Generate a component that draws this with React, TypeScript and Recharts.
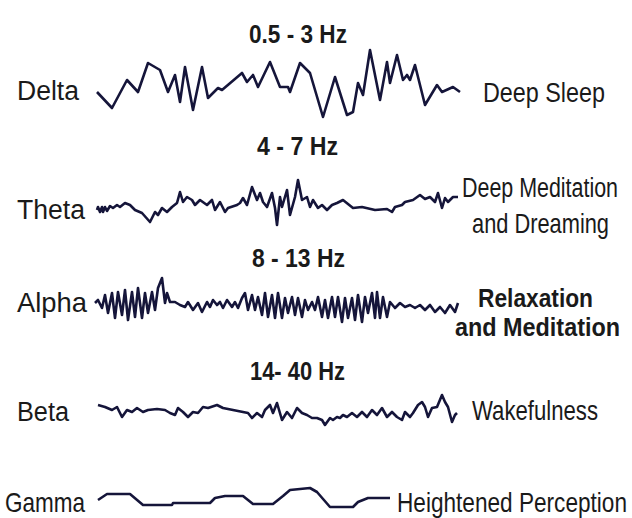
import { LineChart, Line, XAxis, YAxis } from "recharts";

// brain wave bands
const bandNames = ["Delta", "Theta", "Alpha", "Beta", "Gamma"];
const bandRanges = ["0.5 - 3 Hz", "4 - 7 Hz", "8 - 13 Hz", "14- 40 Hz"];
const bandStates = [
  ["Deep Sleep"],
  ["Deep Meditation", "and Dreaming"],
  ["Relaxation", "and Meditation"],
  ["Wakefulness"],
  ["Heightened Perception"],
];

// [time, amplitude] samples
const deltaWave = [
  [0, -8], [15, -24], [30, 4], [41, -8], [51, 21], [63, 14], [71, -8], [78, 9],
  [83, -18], [88, 17], [96, -26], [105, 17], [111, -14], [121, -4], [125, -6],
  [145, 11], [150, 2], [156, 9], [161, -3], [173, 22], [183, -3], [191, -3],
  [193, -8], [203, 21], [213, 11], [226, -33], [238, 7], [250, -31], [256, -28],
  [261, 1], [266, -11], [273, 34], [283, -16], [290, 22], [293, 1], [300, 29],
  [306, 4], [310, 9], [313, 4], [318, 19], [328, -21], [340, -1], [345, -8],
  [356, -3], [363, -8],
];

const thetaWave = [
  [0, -5], [1, -2], [3, -7], [5, -2], [6, -7], [8, -2], [10, -6], [13, -1],
  [16, -3], [20, 0], [23, -2], [28, 2], [33, 0], [38, -5], [45, -8], [53, -17],
  [58, -7], [61, -10], [65, -3], [70, -7], [75, -2], [80, 2], [83, 13], [86, 3],
  [90, 8], [95, 5], [98, 0], [103, 5], [110, 0], [115, 5], [118, -5], [123, 3],
  [128, -7], [131, -3], [140, 0], [143, 2], [146, 7], [150, 0], [155, 18],
  [160, 5], [163, 12], [166, 3], [170, -2], [175, 12], [178, -3], [180, -20],
  [183, 8], [185, -2], [190, 15], [193, -10], [198, 8], [201, 25], [205, 5],
  [210, 8], [213, -2], [216, 5], [221, -3], [225, 0], [230, -5], [235, 0],
  [240, 2], [246, 5], [256, -3], [265, -2], [278, -5], [290, -4], [295, -7],
  [298, -2], [305, 0], [308, 3], [316, 5], [323, 10], [328, 6], [333, 8],
  [338, 3], [341, 12], [345, -3], [348, 7], [351, 3], [356, 8], [361, 8],
];

const alphaWave = [
  [0, 2], [3, 5], [7, -3], [10, 10], [13, -8], [17, 12], [20, -13], [23, 13],
  [27, -10], [30, 15], [33, -15], [37, 13], [40, -12], [43, 17], [47, -13],
  [50, 12], [53, -8], [57, 13], [60, -5], [63, 17], [67, 27], [70, 2], [72, 12],
  [75, 3], [80, 3], [85, 0], [90, -2], [93, 3], [98, -5], [103, 2], [107, -7],
  [112, 3], [115, -2], [118, 5], [122, 0], [125, 3], [128, -3], [132, 5],
  [137, -2], [140, 3], [143, -3], [147, 7], [150, 12], [153, -5], [157, 10],
  [160, -5], [163, 8], [167, -10], [170, 12], [173, -12], [177, 10], [180, -13],
  [183, 12], [187, -13], [190, 7], [193, -8], [197, 8], [200, -10], [203, 7],
  [207, -12], [210, 5], [213, -5], [217, 3], [220, -5], [223, 8], [227, -12],
  [230, 5], [233, -13], [237, 8], [240, -12], [243, 8], [247, -17], [250, 7],
  [253, -13], [257, 7], [260, -15], [263, 10], [267, -17], [270, 8], [273, -8],
  [277, 12], [280, -13], [282, 13], [285, -13], [288, 8], [292, -12], [295, 3],
  [300, -3], [305, 2], [310, -2], [315, 0], [320, -3], [325, 0], [330, -5],
  [335, 0], [340, -7], [345, -2], [350, -8], [355, 0], [360, -7], [363, 2],
];

const betaWave = [
  [0, 7], [7, 5], [14, 2], [19, 5], [24, -5], [29, 2], [34, 0], [39, 4], [45, 0],
  [50, 2], [59, 3], [67, 2], [72, -1], [77, -3], [80, 4], [85, 0], [90, -5],
  [95, 0], [100, -1], [105, 5], [110, 4], [119, 7], [125, 4], [135, 2], [145, 0],
  [150, -1], [154, -6], [159, -1], [164, -5], [167, 2], [172, 7], [175, -1],
  [179, 9], [184, -8], [189, 0], [194, -6], [199, 4], [204, -1], [209, -3],
  [214, -6], [219, -6], [224, -8], [227, -13], [232, -6], [235, -8], [239, -5],
  [242, -6], [245, -3], [249, -5], [254, -1], [259, -5], [264, 0], [269, -5],
  [274, 2], [279, -3], [284, 4], [289, -5], [294, 0], [299, -5], [304, -8],
  [307, 0], [312, -5], [315, -1], [320, 7], [324, 10], [327, 5], [330, -5],
  [334, 4], [339, 5], [344, 17], [347, 10], [350, 5], [354, -10], [357, -3],
  [359, -1],
];

const gammaWave = [
  [0, -2], [9, 4], [32, 4], [45, -7], [74, -7], [75, -5], [112, -5], [117, 0],
  [127, 2], [145, 2], [155, -6], [175, -6], [180, -2], [185, 2], [192, 8],
  [212, 10], [219, 6], [232, -9], [255, -9], [260, -4], [270, 0], [292, 0],
];

const INK = "#15153a";
const SANS = "'Liberation Sans', Arial, sans-serif";

const toPoints = (wave: number[][]) => wave.map(([t, v]) => ({ t, v }));

interface WaveProps {
  wave: number[][];
  left: number;
  mid: number;
  amp: number;
}

const Wave = ({ wave, left, mid, amp }: WaveProps) => {
  const span = wave[wave.length - 1][0];
  return (
    <div style={{ position: "absolute", left: left - 3, top: mid - amp }}>
      <LineChart
        width={span + 6}
        height={amp * 2}
        data={toPoints(wave)}
        margin={{ top: 0, right: 3, bottom: 0, left: 3 }}
      >
        <XAxis type="number" dataKey="t" domain={[0, span]} hide />
        <YAxis type="number" domain={[-amp, amp]} hide />
        <Line
          dataKey="v"
          type="linear"
          dot={false}
          stroke={INK}
          strokeWidth={2.6}
          strokeLinejoin="round"
          isAnimationActive={false}
        />
      </LineChart>
    </div>
  );
};

// measure with a canvas so condensed labels keep their height but fit the width
let ctx: CanvasRenderingContext2D | null = null;
const measure = (s: string, size: number, bold: boolean) => {
  if (!ctx) ctx = document.createElement("canvas").getContext("2d");
  if (!ctx) return s.length * size * 0.5;
  ctx.font = `${bold ? "bold " : ""}${size}px 'Liberation Sans', Arial, sans-serif`;
  return ctx.measureText(s).width;
};

interface FitProps {
  x: number;
  y: number;
  w: number;
  size: number;
  bold?: boolean;
  children: string;
}

const FitText = ({ x, y, w, size, bold = false, children }: FitProps) => {
  const natural = measure(children, size, bold);
  const f = natural > w ? (size * w) / natural : size;
  const sy = size / f;
  return (
    <text
      transform={`translate(${x} ${y}) scale(1 ${sy.toFixed(3)})`}
      fontSize={f}
      fontWeight={bold ? "bold" : "normal"}
      fontFamily={SANS}
      fill="#1a1a1a"
      textLength={w}
      lengthAdjust="spacingAndGlyphs"
    >
      {children}
    </text>
  );
};

const waves = [deltaWave, thetaWave, alphaWave, betaWave, gammaWave];
const rowLayout = [
  { left: 97, mid: 84, amp: 38 },
  { left: 97, mid: 205, amp: 28 },
  { left: 95, mid: 305, amp: 30 },
  { left: 98, mid: 412, amp: 20 },
  { left: 98, mid: 498, amp: 13 },
];

const nameLayout = [
  { x: 17, y: 100, w: 62 },
  { x: 17, y: 219, w: 68 },
  { x: 17, y: 312, w: 70 },
  { x: 17, y: 421, w: 52 },
  { x: 5, y: 512, w: 80 },
];
const rangeLayout = [
  { x: 249, y: 43, w: 98 },
  { x: 257, y: 155, w: 81 },
  { x: 252, y: 267, w: 93 },
  { x: 250, y: 380, w: 95 },
];
const stateLayout = [
  [{ x: 483, y: 102, w: 122 }],
  [{ x: 462, y: 197, w: 156 }, { x: 472, y: 233, w: 137 }],
  [{ x: 478, y: 307, w: 115 }, { x: 455, y: 336, w: 165 }],
  [{ x: 472, y: 420, w: 126 }],
  [{ x: 397, y: 512, w: 230 }],
];

export default function App() {
  return (
    <div
      style={{
        position: "absolute",
        left: 0,
        top: 0,
        width: 632,
        height: 518,
        background: "#fff",
        overflow: "hidden",
      }}
    >
      {waves.map((w, i) => (
        <Wave key={bandNames[i]} wave={w} {...rowLayout[i]} />
      ))}
      <svg
        width={632}
        height={518}
        style={{ position: "absolute", left: 0, top: 0, pointerEvents: "none" }}
      >
        {bandNames.map((name, i) => (
          <FitText key={name} {...nameLayout[i]} size={28}>
            {name}
          </FitText>
        ))}
        {bandRanges.map((r, i) => (
          <FitText key={r} {...rangeLayout[i]} size={25} bold>
            {r}
          </FitText>
        ))}
        {bandStates.map((lines, i) =>
          lines.map((line, j) => (
            <FitText
              key={line}
              {...stateLayout[i][j]}
              size={i === 2 ? 25 : 28}
              bold={i === 2}
            >
              {line}
            </FitText>
          ))
        )}
      </svg>
    </div>
  );
}
